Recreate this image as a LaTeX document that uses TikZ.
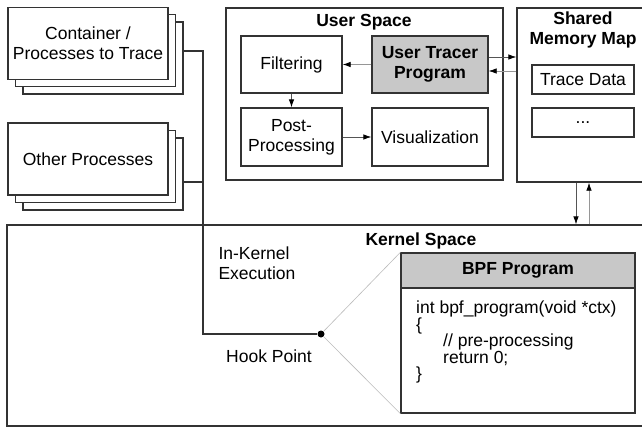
\documentclass[tikz,border=0pt]{standalone}
\usepackage{fontspec}
\setmainfont{Liberation Sans}
\usetikzlibrary{arrows,arrows.meta}
\definecolor{edgegray}{HTML}{333333}
\definecolor{boxfill}{HTML}{C8C8C8}
\definecolor{lightline}{HTML}{BBBBBB}
\definecolor{midline}{HTML}{555555}

\begin{document}
\begin{tikzpicture}[x=1pt,y=-1pt,>={Latex[length=8pt,width=5.5pt,color=black]},
                    font=\fontsize{17.5}{20}\selectfont]
  \tikzstyle{box}=[draw=edgegray,line width=1.3pt,fill=white,align=center,inner sep=0pt]
  \tikzstyle{title}=[font=\fontsize{17.5}{20}\selectfont\bfseries,align=center]
  \tikzstyle{conn}=[->,draw=midline,line width=0.8pt]
  \tikzstyle{back}=[->,draw=lightline!80!black,line width=0.8pt]

  \clip (0,0) rectangle (642,429);
  \fill[white] (0,0) rectangle (642,429);

  % stacked process boxes
  \node[box,minimum width=160,minimum height=72] (containerc) at (103,58) {};
  \node[box,minimum width=160,minimum height=72] (containerb) at (95.5,50.5) {};
  \node[box,minimum width=160,minimum height=72] (container) at (88,43.5) {Container /\\Processes to Trace};
  \node[box,minimum width=160,minimum height=72] (otherc) at (103,174) {};
  \node[box,minimum width=160,minimum height=72] (otherb) at (95.5,166.5) {};
  \node[box,minimum width=160,minimum height=72] (other) at (88,159) {Other Processes};

  % user space
  \node[box,minimum width=277,minimum height=172] (userspace) at (364.5,94) {};
  \node[title] (ustitle) at (364,22) {User Space};
  \node[box,minimum width=101,minimum height=57] (filter) at (291.5,64.5) {Filtering};
  \node[box,fill=boxfill,font=\fontsize{17.5}{20}\selectfont\bfseries,
        minimum width=116,minimum height=57] (tracer) at (430,64.5) {User Tracer\\Program};
  \node[box,minimum width=101,minimum height=58] (postproc) at (291.5,137) {Post-\\Processing};
  \node[box,minimum width=116,minimum height=58] (visual) at (430,137) {Visualization};

  % shared memory
  \node[box,minimum width=140,minimum height=174] (shared) at (587,95) {};
  \node[title] (shtitle) at (583,30) {Shared\\Memory Map};
  \node[box,minimum width=102,minimum height=29] (tracedata) at (583,79.5) {Trace Data};
  \node[box,minimum width=102,minimum height=29] (dots) at (583,122.5) {...};

  % kernel space
  \node[box,fill=none,minimum width=650,minimum height=201] (kernel) at (332,325.5) {};
  \node[title] (kstitle) at (421,241) {Kernel Space};
  \node[align=left] (inkernel) at (257,263) {In-Kernel\\Execution};
  \node (hooklabel) at (269,356) {Hook Point};
  \node[circle,fill=black,inner sep=0pt,minimum size=7] (hook) at (321,334) {};

  \node[box,fill=boxfill,minimum width=234,minimum height=35] (bpfhead) at (518,270.5) {\bfseries BPF Program};
  \node[box,minimum width=234,minimum height=125] (bpfbody) at (518,350.5) {};
  \node[anchor=north west,align=left,inner sep=0pt,font=\fontsize{17.5}{16.4}\selectfont]
    (code) at (416,301) {int bpf\_program(void *ctx)\\
    \{\\
    \hspace*{27pt}// pre-processing\\
    \hspace*{27pt}return 0;\\
    \}};

  % connectors
  \coordinate (trunk) at (203,334);
  \draw[edgegray,line width=1.1pt] (containerc.east |- 0,51) -| (trunk) -- (hook);
  \draw[edgegray,line width=1.1pt] (otherc.east |- 0,182) -| (trunk);
  \draw[lightline,line width=0.6pt] (hook) -- (bpfhead.north west);
  \draw[lightline,line width=0.6pt] (hook) -- (bpfbody.south west);

  \draw[back] (tracer) -- (filter);
  \draw[conn] (filter) -- (postproc);
  \draw[conn] (postproc) -- (visual);
  \draw[conn] (tracer.east |- 0,57) -- (shared.west |- 0,57);
  \draw[back] (shared.west |- 0,71) -- (tracer.east |- 0,71);
  \draw[conn] (shared.south -| 576,0) -- (kernel.north -| 576,0);
  \draw[back] (kernel.north -| 589,0) -- (shared.south -| 589,0);
\end{tikzpicture}
\end{document}
